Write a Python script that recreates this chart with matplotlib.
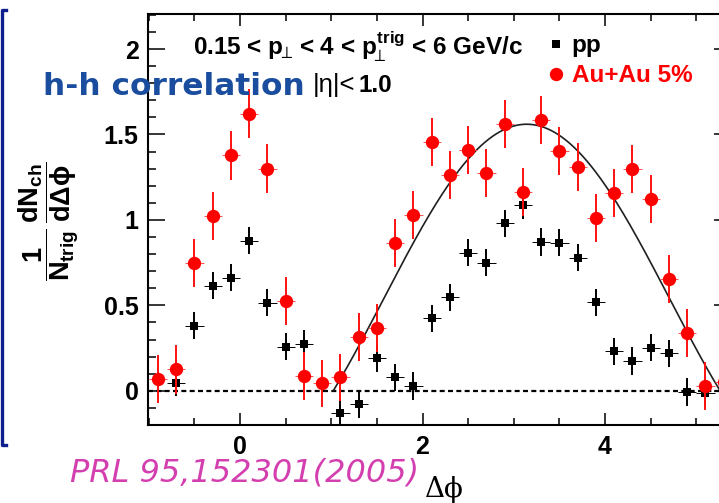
import numpy as np
import matplotlib
matplotlib.use("Agg")
import matplotlib.pyplot as plt
from matplotlib.lines import Line2D
from matplotlib.ticker import MultipleLocator

# ---------------- data ----------------
dphi_auau = [-0.9, -0.7, -0.5, -0.3, -0.1, 0.1, 0.3, 0.5, 0.7, 0.9, 1.1, 1.3, 1.5, 1.7,
             1.9, 2.1, 2.3, 2.5, 2.7, 2.9, 3.1, 3.3, 3.5, 3.7, 3.9, 4.1, 4.3, 4.5, 4.7,
             4.9, 5.1, 5.3]
yield_auau = [0.067, 0.125, 0.75, 1.025, 1.378, 1.622, 1.30, 0.527, 0.088, 0.043, 0.078,
              0.313, 0.369, 0.863, 1.029, 1.454, 1.263, 1.409, 1.277, 1.561, 1.165, 1.585,
              1.403, 1.308, 1.009, 1.156, 1.296, 1.122, 0.652, 0.336, 0.028, 0.05]
err_auau = [0.14, 0.145, 0.14, 0.14, 0.145, 0.145, 0.145, 0.14, 0.14, 0.14, 0.14,
            0.14, 0.14, 0.14, 0.14, 0.14, 0.14, 0.14, 0.14, 0.14, 0.14, 0.14,
            0.14, 0.14, 0.14, 0.14, 0.14, 0.14, 0.14, 0.14, 0.14, 0.14]

dphi_pp = [-0.7, -0.5, -0.3, -0.1, 0.1, 0.3, 0.5, 0.7, 1.1, 1.3, 1.5, 1.7, 1.9, 2.1, 2.3,
           2.5, 2.7, 2.9, 3.1, 3.3, 3.5, 3.7, 3.9, 4.1, 4.3, 4.5, 4.7, 4.9, 5.1]
yield_pp = [0.047, 0.381, 0.615, 0.662, 0.878, 0.515, 0.258, 0.275, -0.127, -0.078, 0.19,
            0.078, 0.028, 0.424, 0.547, 0.808, 0.75, 0.98, 1.087, 0.871, 0.867, 0.779,
            0.517, 0.232, 0.174, 0.252, 0.219, -0.006, -0.015]
err_pp = [0.08] * len(dphi_pp)

bin_halfwidth = 0.1

# fit function parameters (pedestal + cos(dphi - pi), drawn where positive around pi)
fit_pedestal = 0.535
fit_amplitude = 1.025
fit_center = np.pi
fit_halfrange = 2.2

xticks_major = [0, 2, 4]
yticks_major = [0, 0.5, 1, 1.5, 2]
ytick_labels = ["0", "0.5", "1", "1.5", "2"]

# ---------------- style ----------------
W, H = 719, 503
plt.rcParams["mathtext.fontset"] = "custom"
plt.rcParams["mathtext.rm"] = "Liberation Sans:bold"
plt.rcParams["mathtext.it"] = "Liberation Sans:bold"
plt.rcParams["mathtext.bf"] = "Liberation Sans:bold"
plt.rcParams["mathtext.sf"] = "Liberation Sans:bold"
plt.rcParams["mathtext.fallback"] = "stixsans"
plt.rcParams["lines.scale_dashes"] = False

fig = plt.figure(figsize=(W / 100, H / 100), dpi=100)

def px(x, y):
    return x / W, 1 - y / H

ax_l, ax_r, ax_t, ax_b = 148.3, 731.0, 14.0, 425.0
ax = fig.add_axes([ax_l / W, 1 - ax_b / H, (ax_r - ax_l) / W, (ax_b - ax_t) / H])
x0_px, unit_x = 240.0, 91.25
ax.set_xlim((ax_l - x0_px) / unit_x, (ax_r - x0_px) / unit_x)
ax.set_ylim(-0.2, 2.205)

for s in ax.spines.values():
    s.set_linewidth(1.5)

# zero line
ax.axhline(0, color="black", lw=1.6, dashes=(3.6, 2.4), zorder=1)

# fit curve
xc = np.linspace(fit_center - fit_halfrange, fit_center + fit_halfrange, 800)
yc = fit_pedestal + fit_amplitude * np.cos(xc - fit_center)
mask = yc >= 0
ax.plot(xc[mask], yc[mask], color="#202020", lw=1.2, zorder=2)

# pp
ax.errorbar(dphi_pp, yield_pp, xerr=bin_halfwidth, fmt="none", ecolor="black",
            elinewidth=0.7, capsize=0, zorder=3)
ax.errorbar(dphi_pp, yield_pp, yerr=err_pp, fmt="none", ecolor="black",
            elinewidth=1.4, capsize=0, zorder=3)
h_pp, = ax.plot(dphi_pp, yield_pp, ls="none", marker="s", ms=6.2, color="black",
                mec="black", mew=0, zorder=4)

# Au+Au
ax.errorbar(dphi_auau, yield_auau, xerr=bin_halfwidth, fmt="none", ecolor="#ff5050",
            elinewidth=0.7, capsize=0, zorder=5)
ax.errorbar(dphi_auau, yield_auau, yerr=err_auau, fmt="none", ecolor="#ff1010",
            elinewidth=1.4, capsize=0, zorder=5)
h_au, = ax.plot(dphi_auau, yield_auau, ls="none", marker="o", ms=9.6, color="#ff0000",
                mec="#ff0000", mew=0, zorder=6)

# ticks
ax.set_xticks(xticks_major)
ax.set_xticklabels([str(v) for v in xticks_major])
ax.xaxis.set_minor_locator(MultipleLocator(0.5))
ax.set_yticks(yticks_major)
ax.set_yticklabels(ytick_labels)
ax.yaxis.set_minor_locator(MultipleLocator(0.1))
ax.tick_params(which="both", direction="in", top=True, right=True, width=1.1, color="black")
ax.tick_params(axis="x", which="major", length=8.6, pad=7.0)
ax.tick_params(axis="x", which="minor", length=5.0)
ax.tick_params(axis="y", which="major", length=12.2, pad=7.0)
ax.tick_params(axis="y", which="minor", length=5.8)
for lab in ax.get_xticklabels() + ax.get_yticklabels():
    lab.set_fontfamily("Liberation Sans")
    lab.set_fontweight("bold")
    lab.set_fontsize(18)

# legend
leg = ax.legend([h_pp, h_au], ["pp", "Au+Au 5%"], loc="upper left",
                bbox_to_anchor=px(534, 22), bbox_transform=fig.transFigure,
                frameon=False, handlelength=0.8, handletextpad=0.25, borderpad=0,
                labelspacing=0.3, prop={"family": "Liberation Sans", "weight": "bold", "size": 17.5})
for t, c in zip(leg.get_texts(), ["black", "#ff0000"]):
    t.set_color(c)

# header text
fig.text(*px(193, 55), r"0.15 < $p_{\!\!\bot}\!$ < 4 < $p_{\!\!\bot}^{trig}$ < 6 GeV/c",
         fontsize=17.5, fontweight="bold", family="Liberation Sans", va="baseline", ha="left")
fig.text(*px(313, 92), "|η|<", fontsize=18.5, family="Liberation Sans", va="baseline", ha="left")
fig.text(*px(358, 92), "1.0", fontsize=17.5, fontweight="bold", family="Liberation Sans",
         va="baseline", ha="left")
fig.text(*px(43, 95), "h-h correlation", fontsize=22.5, fontweight="bold",
         family="DejaVu Sans", color="#1b4d9e", va="baseline", ha="left")

# y label
fig.text(*px(49, 221), r"$\dfrac{1}{N_{trig}}\,\dfrac{dN_{ch}}{d\Delta\phi}$", rotation=90,
         fontsize=19.5, ha="center", va="center")

# x label
fig.text(*px(444, 497), "Δϕ", fontsize=20, family="DejaVu Serif", ha="center", va="baseline")

# citation
fig.text(*px(70, 482), "PRL 95,152301(2005)", fontsize=23, family="DejaVu Sans",
         style="italic", color="#d43fb0", ha="left", va="baseline")

# slide frame on the left
fig.add_artist(Line2D([6 / W, 1.5 / W, 1.5 / W, 6 / W], [1 - 10 / H, 1 - 10 / H, 1 - 445 / H, 1 - 445 / H],
                      transform=fig.transFigure, color="#0d1f8c", lw=2.4))

fig.savefig("out.png", dpi=100)
